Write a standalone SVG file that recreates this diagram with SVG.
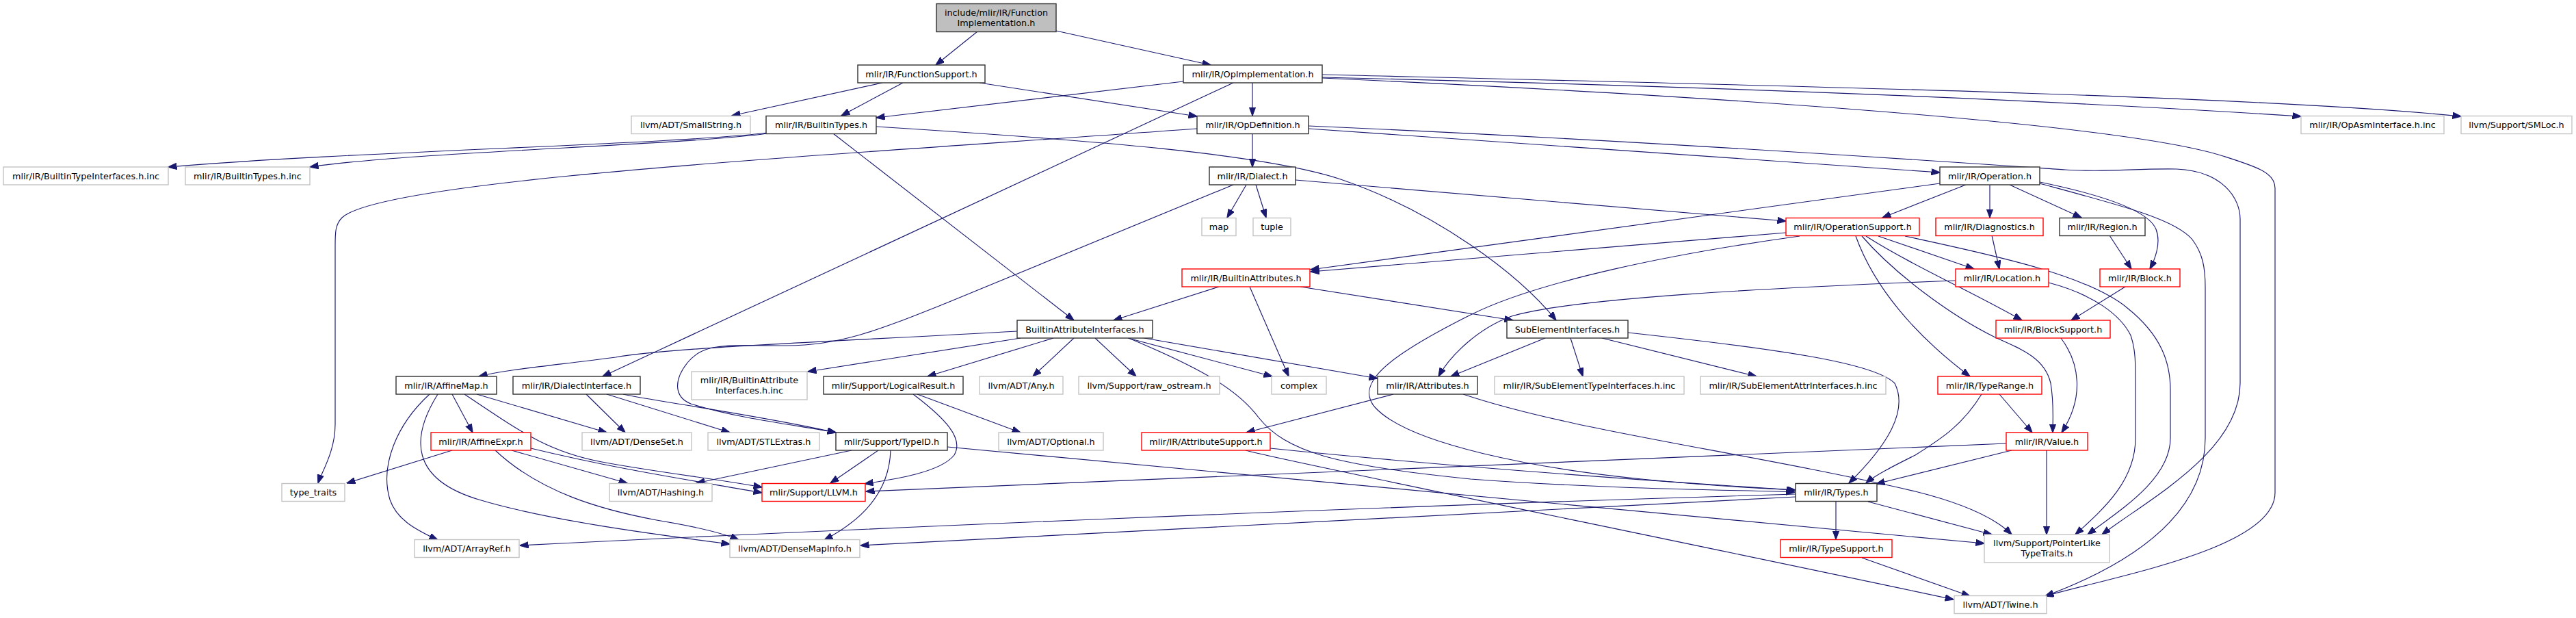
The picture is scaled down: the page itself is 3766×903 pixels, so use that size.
<svg xmlns="http://www.w3.org/2000/svg" width="3766" height="903" viewBox="0 0 3766 903">
<style>
rect{fill:#fff;stroke-width:1.4}
.b{stroke:#303030}
.g{stroke:#c4c4c4}
.r{stroke:#ff0000}
.root{fill:#bfbfbf;stroke:#303030}
text{font-family:"DejaVu Sans",sans-serif;font-size:12.8px;fill:#000;text-anchor:middle}
#edges path{fill:none;stroke:#191970;stroke-width:1.15;marker-end:url(#a)}
</style>
<defs>
<marker id="a" markerWidth="13" markerHeight="10" refX="12.5" refY="4.75" orient="auto" markerUnits="userSpaceOnUse">
<path d="M0,0 L13,4.75 L0,9.5 z" fill="#191970" stroke="#191970" stroke-width="1"/>
</marker>
</defs>
<rect x="0" y="0" width="3766" height="903" style="fill:#fff;stroke:none"/>
<g id="edges">
<path d="M1429,46 L1368,95"/>
<path d="M1544,45 L1770,95"/>
<path d="M1290,121 L1070,169"/>
<path d="M1320,121 L1230,169"/>
<path d="M1432,121 L1750,170"/>
<path d="M1730,119 L1281,172"/>
<path d="M1831,121 L1831,169"/>
<path d="M1803,121 L881,550"/>
<path d="M1933,113 C2400,124 2900,140 3364,170"/>
<path d="M1933,109 C2600,125 3300,140 3598,170"/>
<path d="M1933,114 C2500,140 3100,180 3250,228 C3300,244 3326,252 3326,275 L3326,720 C3326,800 3100,840 2990,871"/>
<path d="M1122,194 C1000,210 500,222 246,244"/>
<path d="M1122,195 C1000,212 600,222 453,244"/>
<path d="M1218,195 L1570,468"/>
<path d="M1281,185 C1600,205 1850,225 1960,262 C2100,310 2220,400 2275,468"/>
<path d="M1831,195 L1831,244"/>
<path d="M1913,188 L2836,252"/>
<path d="M1913,184 C2400,205 2900,240 3019,248 C3080,252 3120,246 3182,247 C3250,250 3275,290 3275,320 L3275,560 C3275,660 3140,730 3073,781"/>
<path d="M1750,188 C1200,228 560,262 500,318 C490,328 490,340 490,360 L490,620 C490,660 470,690 465,706"/>
<path d="M1822,270 L1794,318"/>
<path d="M1836,270 L1851,318"/>
<path d="M1894,263 L2611,323"/>
<path d="M1803,270 L1383,443 C1290,480 1230,505 1150,505 C1060,505 1030,500 1005,530 C985,555 985,580 1010,590 C1080,612 1170,622 1222,632"/>
<path d="M2836,268 L1916,394"/>
<path d="M2874,270 L2752,318"/>
<path d="M2909,270 L2909,318"/>
<path d="M2938,270 L3043,318"/>
<path d="M2982,266 C3060,282 3140,305 3152,335 C3160,355 3150,380 3143,393"/>
<path d="M2982,268 C3100,300 3180,320 3205,350 C3220,370 3224,390 3224,420 L3224,640 C3224,760 3100,830 2990,871"/>
<path d="M2611,340 L1916,397"/>
<path d="M2631,345 C2450,370 2250,410 2150,460 C2030,520 1980,560 2010,595 C2060,650 2250,685 2400,700 C2500,710 2580,714 2625,716"/>
<path d="M2746,345 L2886,393"/>
<path d="M2728,345 C2790,385 2890,430 2956,468"/>
<path d="M2722,345 C2770,400 2850,460 2917,493 C2960,512 2990,525 2998,560 C3003,590 3001,610 3001,632"/>
<path d="M2713,345 C2740,420 2800,490 2880,550"/>
<path d="M2785,345 C2900,370 3050,400 3110,450 C3160,490 3173,530 3173,570 L3173,640 C3173,700 3100,745 3052,781"/>
<path d="M2995,413 C3060,430 3100,460 3115,490 C3122,510 3122,530 3122,560 L3122,640 C3122,700 3080,740 3034,781"/>
<path d="M2859,410 C2600,420 2300,435 2210,462 C2160,480 2120,520 2103,550"/>
<path d="M2912,344 L2923,393"/>
<path d="M3084,344 L3116,393"/>
<path d="M3107,419 L3028,468"/>
<path d="M1782,419 L1628,468"/>
<path d="M1827,419 L1884,550"/>
<path d="M1901,419 L2212,468"/>
<path d="M1487,484 C1200,500 980,508 900,522 C800,535 740,540 700,550"/>
<path d="M1492,494 L1181,543"/>
<path d="M1540,494 L1356,550"/>
<path d="M1570,494 L1510,550"/>
<path d="M1601,494 L1661,550"/>
<path d="M1649,494 L1860,550"/>
<path d="M1667,493 L2014,553"/>
<path d="M1650,494 C1760,540 1810,570 1840,610 C1880,660 1950,680 2150,700 C2350,715 2550,716 2624,719"/>
<path d="M628,576 C580,620 555,680 570,730 C580,760 610,775 640,789"/>
<path d="M640,576 C600,640 600,700 700,730 C800,760 950,780 1067,795"/>
<path d="M661,576 L691,632"/>
<path d="M679,576 C760,630 800,660 880,675 C960,690 1050,700 1114,712"/>
<path d="M697,576 L887,632"/>
<path d="M661,658 L507,706"/>
<path d="M724,658 C790,720 880,745 960,760 C1020,770 1060,780 1080,789"/>
<path d="M748,658 L917,706"/>
<path d="M776,655 C900,685 1000,700 1114,720"/>
<path d="M857,576 L914,632"/>
<path d="M887,576 L1067,632"/>
<path d="M911,576 C950,585 1100,605 1222,632"/>
<path d="M1245,658 L1018,706"/>
<path d="M1284,658 L1214,706"/>
<path d="M1302,658 C1300,720 1260,760 1205,789"/>
<path d="M1385,653 L2901,794"/>
<path d="M1335,576 C1380,610 1410,640 1395,665 C1375,690 1310,700 1264,707"/>
<path d="M1341,576 L1492,632"/>
<path d="M2037,576 L1822,632"/>
<path d="M2139,576 C2300,630 2550,660 2800,718 C2880,738 2920,760 2941,781"/>
<path d="M1857,655 C2150,685 2450,705 2624,716"/>
<path d="M1821,658 C1850,668 2500,800 2856,876"/>
<path d="M2259,494 L2121,550"/>
<path d="M2296,494 L2314,550"/>
<path d="M2342,494 L2568,550"/>
<path d="M2380,486 C2600,510 2740,530 2770,560 C2790,600 2760,650 2703,706"/>
<path d="M2923,576 L2971,632"/>
<path d="M2897,576 C2870,620 2840,640 2800,665 C2770,680 2740,695 2728,706"/>
<path d="M2933,648 L1266,718"/>
<path d="M2941,658 L2743,707"/>
<path d="M2992,658 L2992,781"/>
<path d="M3013,494 C3040,530 3048,580 3014,632"/>
<path d="M2684,733 L2684,788"/>
<path d="M2625,722 C2000,740 1200,775 760,797"/>
<path d="M2625,726 L1258,797"/>
<path d="M2731,733 L2912,781"/>
<path d="M2722,815 L2880,871"/>
</g>
<g id="n-root"><rect class="root" x="1369" y="5.5" width="175" height="41"/><text x="1456.5" y="22.5">include/mlir/IR/Function</text><text x="1456.5" y="37.5">Implementation.h</text></g>
<g id="n-FunctionSupport"><rect class="b" x="1254" y="95" width="186" height="26"/><text x="1347" y="112.5">mlir/IR/FunctionSupport.h</text></g>
<g id="n-OpImplementation"><rect class="b" x="1730" y="95" width="203" height="26"/><text x="1831.5" y="112.5">mlir/IR/OpImplementation.h</text></g>
<g id="n-SmallString"><rect class="g" x="923" y="169.5" width="174" height="26"/><text x="1010" y="187">llvm/ADT/SmallString.h</text></g>
<g id="n-BuiltinTypes"><rect class="b" x="1120" y="169.5" width="161" height="26"/><text x="1200.5" y="187">mlir/IR/BuiltinTypes.h</text></g>
<g id="n-OpDefinition"><rect class="b" x="1750" y="169.5" width="163" height="26"/><text x="1831.5" y="187">mlir/IR/OpDefinition.h</text></g>
<g id="n-OpAsmInterface"><rect class="g" x="3364" y="169.5" width="209" height="26"/><text x="3468.5" y="187">mlir/IR/OpAsmInterface.h.inc</text></g>
<g id="n-SMLoc"><rect class="g" x="3598" y="169.5" width="162" height="26"/><text x="3679" y="187">llvm/Support/SMLoc.h</text></g>
<g id="n-BuiltinTypeInterfacesInc"><rect class="g" x="5" y="244" width="241" height="26"/><text x="125.5" y="261.5">mlir/IR/BuiltinTypeInterfaces.h.inc</text></g>
<g id="n-BuiltinTypesInc"><rect class="g" x="271" y="244" width="182" height="26"/><text x="362" y="261.5">mlir/IR/BuiltinTypes.h.inc</text></g>
<g id="n-Dialect"><rect class="b" x="1768" y="244" width="126" height="26"/><text x="1831" y="261.5">mlir/IR/Dialect.h</text></g>
<g id="n-Operation"><rect class="b" x="2836" y="244" width="146" height="26"/><text x="2909" y="261.5">mlir/IR/Operation.h</text></g>
<g id="n-map"><rect class="g" x="1757" y="318.5" width="50" height="26"/><text x="1782" y="336">map</text></g>
<g id="n-tuple"><rect class="g" x="1832" y="318.5" width="55" height="26"/><text x="1859.5" y="336">tuple</text></g>
<g id="n-OperationSupport"><rect class="r" x="2611" y="318.5" width="195" height="26"/><text x="2708.5" y="336">mlir/IR/OperationSupport.h</text></g>
<g id="n-Diagnostics"><rect class="r" x="2830" y="318.5" width="157" height="26"/><text x="2908.5" y="336">mlir/IR/Diagnostics.h</text></g>
<g id="n-Region"><rect class="b" x="3011" y="318.5" width="125" height="26"/><text x="3073.5" y="336">mlir/IR/Region.h</text></g>
<g id="n-BuiltinAttributes"><rect class="r" x="1728" y="393" width="187" height="26"/><text x="1821.5" y="410.5">mlir/IR/BuiltinAttributes.h</text></g>
<g id="n-Location"><rect class="r" x="2859" y="393" width="136" height="26"/><text x="2927" y="410.5">mlir/IR/Location.h</text></g>
<g id="n-Block"><rect class="r" x="3070" y="393" width="117" height="26"/><text x="3128.5" y="410.5">mlir/IR/Block.h</text></g>
<g id="n-BuiltinAttributeInterfaces"><rect class="b" x="1487" y="468" width="198" height="26"/><text x="1586" y="485.5">BuiltinAttributeInterfaces.h</text></g>
<g id="n-SubElementInterfaces"><rect class="b" x="2203" y="468" width="177" height="26"/><text x="2291.5" y="485.5">SubElementInterfaces.h</text></g>
<g id="n-BlockSupport"><rect class="r" x="2918" y="468" width="167" height="26"/><text x="3001.5" y="485.5">mlir/IR/BlockSupport.h</text></g>
<g id="n-AffineMap"><rect class="b" x="579" y="550" width="147" height="26"/><text x="652.5" y="567.5">mlir/IR/AffineMap.h</text></g>
<g id="n-DialectInterface"><rect class="b" x="750" y="550" width="186" height="26"/><text x="843" y="567.5">mlir/IR/DialectInterface.h</text></g>
<g id="n-BuiltinAttributeInterfacesInc"><rect class="g" x="1011" y="543" width="169" height="41"/><text x="1095.5" y="560">mlir/IR/BuiltinAttribute</text><text x="1095.5" y="575">Interfaces.h.inc</text></g>
<g id="n-LogicalResult"><rect class="b" x="1204" y="550" width="204" height="26"/><text x="1306" y="567.5">mlir/Support/LogicalResult.h</text></g>
<g id="n-Any"><rect class="g" x="1432" y="550" width="122" height="26"/><text x="1493" y="567.5">llvm/ADT/Any.h</text></g>
<g id="n-raw_ostream"><rect class="g" x="1577" y="550" width="206" height="26"/><text x="1680" y="567.5">llvm/Support/raw_ostream.h</text></g>
<g id="n-complex"><rect class="g" x="1859" y="550" width="80" height="26"/><text x="1899" y="567.5">complex</text></g>
<g id="n-Attributes"><rect class="b" x="2014" y="550" width="146" height="26"/><text x="2087" y="567.5">mlir/IR/Attributes.h</text></g>
<g id="n-SubElementTypeInterfacesInc"><rect class="g" x="2185" y="550" width="277" height="26"/><text x="2323.5" y="567.5">mlir/IR/SubElementTypeInterfaces.h.inc</text></g>
<g id="n-SubElementAttrInterfacesInc"><rect class="g" x="2486" y="550" width="271" height="26"/><text x="2621.5" y="567.5">mlir/IR/SubElementAttrInterfaces.h.inc</text></g>
<g id="n-TypeRange"><rect class="r" x="2833" y="550" width="152" height="26"/><text x="2909" y="567.5">mlir/IR/TypeRange.h</text></g>
<g id="n-AffineExpr"><rect class="r" x="630" y="632" width="146" height="26"/><text x="703" y="649.5">mlir/IR/AffineExpr.h</text></g>
<g id="n-DenseSet"><rect class="g" x="851" y="632" width="160" height="26"/><text x="931" y="649.5">llvm/ADT/DenseSet.h</text></g>
<g id="n-STLExtras"><rect class="g" x="1035" y="632" width="163" height="26"/><text x="1116.5" y="649.5">llvm/ADT/STLExtras.h</text></g>
<g id="n-TypeID"><rect class="b" x="1222" y="632" width="163" height="26"/><text x="1303.5" y="649.5">mlir/Support/TypeID.h</text></g>
<g id="n-Optional"><rect class="g" x="1460" y="632" width="153" height="26"/><text x="1536.5" y="649.5">llvm/ADT/Optional.h</text></g>
<g id="n-AttributeSupport"><rect class="r" x="1669" y="632" width="188" height="26"/><text x="1763" y="649.5">mlir/IR/AttributeSupport.h</text></g>
<g id="n-Value"><rect class="r" x="2933" y="632" width="119" height="26"/><text x="2992.5" y="649.5">mlir/IR/Value.h</text></g>
<g id="n-type_traits"><rect class="g" x="412" y="706.5" width="92" height="26"/><text x="458" y="724">type_traits</text></g>
<g id="n-Hashing"><rect class="g" x="891" y="706.5" width="150" height="26"/><text x="966" y="724">llvm/ADT/Hashing.h</text></g>
<g id="n-LLVM"><rect class="r" x="1114" y="706.5" width="151" height="26"/><text x="1189.5" y="724">mlir/Support/LLVM.h</text></g>
<g id="n-Types"><rect class="b" x="2625" y="706.5" width="119" height="26"/><text x="2684.5" y="724">mlir/IR/Types.h</text></g>
<g id="n-ArrayRef"><rect class="g" x="606" y="788.5" width="153" height="26"/><text x="682.5" y="806">llvm/ADT/ArrayRef.h</text></g>
<g id="n-DenseMapInfo"><rect class="g" x="1067" y="788.5" width="190" height="26"/><text x="1162" y="806">llvm/ADT/DenseMapInfo.h</text></g>
<g id="n-TypeSupport"><rect class="r" x="2603" y="788.5" width="163" height="26"/><text x="2684.5" y="806">mlir/IR/TypeSupport.h</text></g>
<g id="n-PointerLikeTypeTraits"><rect class="g" x="2901" y="781" width="183" height="41"/><text x="2992.5" y="798">llvm/Support/PointerLike</text><text x="2992.5" y="813">TypeTraits.h</text></g>
<g id="n-Twine"><rect class="g" x="2857" y="870.5" width="135" height="26"/><text x="2924.5" y="888">llvm/ADT/Twine.h</text></g>
</svg>
